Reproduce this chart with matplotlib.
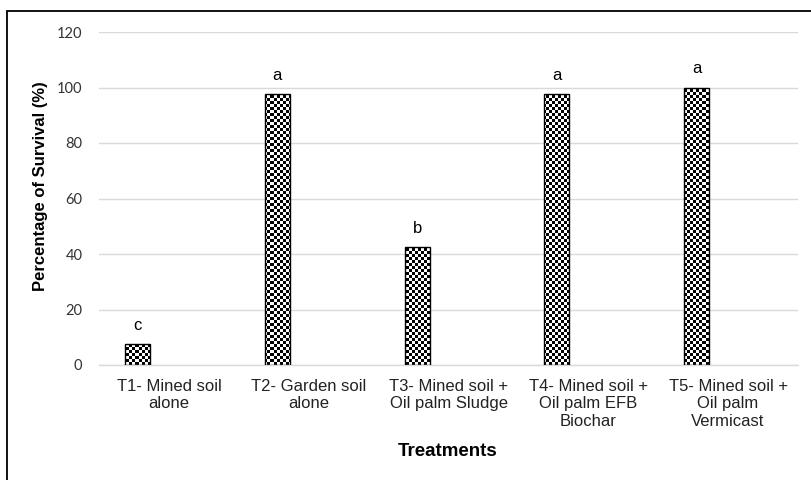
import numpy as np
import matplotlib
matplotlib.use("Agg")
import matplotlib.pyplot as plt
from matplotlib.patches import Rectangle

# Data
treatments = [
    "T1- Mined soil\nalone",
    "T2- Garden soil\nalone",
    "T3- Mined soil +\nOil palm Sludge",
    "T4- Mined soil +\nOil palm EFB\nBiochar",
    "T5- Mined soil +\nOil palm\nVermicast",
]
survival = [7.5, 97.5, 42.5, 97.5, 100]
letters = ["c", "a", "b", "a", "a"]
yticks = [0, 20, 40, 60, 80, 100, 120]

W, H = 812, 480
fig = plt.figure(figsize=(W / 100, H / 100), dpi=100)
# axes in pixel units so the checker cells land on whole pixels
ax_l, ax_b, ax_w, ax_h = 99, 480 - 365, 699, 333
ax = fig.add_axes([ax_l / W, ax_b / H, ax_w / W, ax_h / H])

x = np.arange(len(treatments))
bar_w = 0.179
bar_off = -0.314 + bar_w / 2
bars = ax.bar(x + bar_off, survival, width=bar_w, color="none",
              edgecolor="black", linewidth=1.0, zorder=3)

ax.set_xlim(-0.5, len(treatments) - 0.5)
ax.set_ylim(0, 120)

# checkerboard texture clipped to each bar
cell = 3
ny, nx = ax_h // cell, ax_w // cell
checker = (np.indices((ny, nx)).sum(axis=0) % 2).astype(float)
for b in bars:
    im = ax.imshow(checker, cmap="gray", extent=(-0.5, len(treatments) - 0.5, 0, 120),
                   aspect="auto", interpolation="nearest", zorder=2)
    im.set_clip_path(b)

for xi, v, s in zip(x, survival, letters):
    ax.text(xi + bar_off, v + 4, s, ha="center", va="bottom",
            fontsize=12, family="Liberation Sans", color="black")

ax.set_yticks(yticks)
ax.set_yticklabels([str(t) for t in yticks], family="Lato", fontsize=10.5, color="#333333")
ax.set_xticks(x)
ax.set_xticklabels(treatments, family="Liberation Sans", fontsize=12,
                   color="#222222", linespacing=1.2)
ax.tick_params(axis="both", length=0)
ax.tick_params(axis="y", pad=12)
ax.tick_params(axis="x", pad=10)

ax.grid(axis="y", color="#d9d9d9", linewidth=1.0, zorder=0)
ax.set_axisbelow(True)
for side in ["top", "right", "left"]:
    ax.spines[side].set_visible(False)
ax.spines["bottom"].set_color("#d9d9d9")
ax.spines["bottom"].set_linewidth(1.0)

fig.text(41 / W, 1 - 186 / H, "Percentage of Survival (%)", rotation=90,
         ha="center", va="center", family="Liberation Sans",
         fontsize=12, fontweight="bold")
fig.text(448 / W, 1 - 452 / H, "Treatments", ha="center", va="center",
         family="Liberation Sans", fontsize=13.5, fontweight="bold")

# outer chart border (right and bottom edges fall outside the picture)
fig.patches.append(Rectangle((6.5 / W, -0.05), 1.0, 1.05 - 10.5 / H,
                             transform=fig.transFigure, fill=False,
                             edgecolor="black", linewidth=1.3))

fig.savefig("out.png", dpi=100)
